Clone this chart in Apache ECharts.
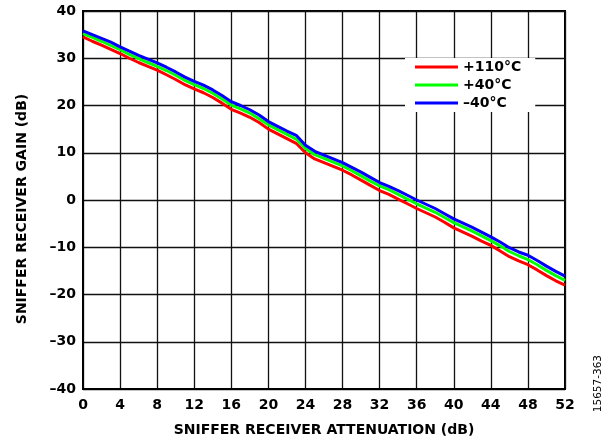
<!DOCTYPE html>
<html>
<head>
<meta charset="utf-8">
<script src="https://cdn.jsdelivr.net/npm/echarts@6/dist/echarts.min.js"></script>
<style>html,body{margin:0;padding:0;background:#fff}#c{width:613px;height:442px}</style>
</head>
<body>
<div id="c"></div>
<script>
var attenuation = [0,1,2,3,4,5,6,7,8,9,10,11,12,13,14,15,16,17,18,19,20,21,22,23,24,25,26,27,28,29,30,31,32,33,34,35,36,37,38,39,40,41,42,43,44,45,46,47,48,49,50,51,52];
var gain110 = [34.5,33.6,32.8,31.9,31.0,30.0,29.1,28.3,27.5,26.5,25.5,24.4,23.5,22.7,21.7,20.5,19.2,18.4,17.5,16.4,15.0,14.0,13.0,12.0,10.0,8.7,7.9,7.1,6.3,5.3,4.2,3.1,2.0,1.2,0.2,-0.8,-1.8,-2.7,-3.6,-4.7,-5.9,-6.8,-7.7,-8.7,-9.6,-10.8,-12.0,-12.9,-13.7,-14.8,-16.0,-17.1,-18.0];
var gain40 = [35.2,34.4,33.6,32.7,31.8,30.8,29.9,29.1,28.3,27.4,26.4,25.3,24.4,23.6,22.6,21.4,20.1,19.3,18.4,17.2,15.9,14.9,13.9,12.9,10.9,9.6,8.8,8.0,7.2,6.2,5.1,4.0,3.0,2.2,1.2,0.2,-0.8,-1.7,-2.6,-3.7,-4.8,-5.7,-6.6,-7.6,-8.6,-9.7,-10.9,-11.8,-12.6,-13.7,-14.9,-16.0,-17.0];
var gainM40 = [35.8,35.0,34.2,33.4,32.4,31.5,30.6,29.8,29.0,28.1,27.1,26.0,25.1,24.3,23.3,22.1,20.8,20.0,19.1,18.0,16.6,15.6,14.6,13.7,11.6,10.3,9.5,8.7,7.9,6.9,5.9,4.8,3.7,2.9,2.0,1.0,0.0,-0.9,-1.8,-2.9,-4.0,-4.9,-5.8,-6.8,-7.8,-8.9,-10.1,-11.0,-11.7,-12.8,-14.0,-15.1,-16.1];
var seriesNames = ['+110°C', '+40°C', '\u201340°C'];
var seriesColors = ['#ff0000', '#00ff00', '#0000ff'];
var xTitle = 'SNIFFER RECEIVER ATTENUATION (dB)';
var yTitle = 'SNIFFER RECEIVER GAIN (dB)';
var figureId = '15657-363';

function pairs(ys){ return attenuation.map(function(x,i){ return [x, ys[i]]; }); }
var allGains = [gain110, gain40, gainM40];
var FONT = 'DejaVu Sans, sans-serif';
function dash(v){ return String(v).replace('-', '\u2013'); }

var chart = echarts.init(document.getElementById('c'), null, {renderer:'canvas'});
chart.setOption({
  animation: false,
  backgroundColor: '#fff',
  grid: {left: 83, right: 48, top: 11, bottom: 52, show: true, borderColor: '#000', borderWidth: 2, backgroundColor: 'transparent'},
  xAxis: {
    type: 'value', min: 0, max: 52, interval: 4,
    name: xTitle, nameLocation: 'middle', nameGap: 34,
    nameTextStyle: {fontFamily: FONT, fontWeight: 'bold', fontSize: 14, color: '#000'},
    axisLine: {show: true, onZero: false, lineStyle: {color: '#000', width: 2}},
    axisTick: {show: false},
    axisLabel: {fontFamily: FONT, fontWeight: 'bold', fontSize: 14, color: '#000', margin: 9, formatter: dash},
    splitLine: {show: true, lineStyle: {color: '#111', width: 1.3}}
  },
  yAxis: {
    type: 'value', min: -40, max: 40, interval: 10,
    name: yTitle, nameLocation: 'middle', nameGap: 54, nameRotate: 90,
    nameTextStyle: {fontFamily: FONT, fontWeight: 'bold', fontSize: 14, color: '#000', padding: [0, 18, 0, 0]},
    axisLine: {show: true, onZero: false, lineStyle: {color: '#000', width: 2}},
    axisTick: {show: false},
    axisLabel: {fontFamily: FONT, fontWeight: 'bold', fontSize: 14, color: '#000', margin: 7, formatter: dash},
    splitLine: {show: true, lineStyle: {color: '#111', width: 1.3}}
  },
  legend: {
    orient: 'vertical', left: 405, top: 58,
    backgroundColor: '#fff', padding: [1, 14, 1, 10],
    itemWidth: 43, itemHeight: 3, itemGap: 2, icon: 'rect',
    textStyle: {fontFamily: FONT, fontWeight: 'bold', fontSize: 14, color: '#000', lineHeight: 16},
    data: seriesNames
  },
  graphic: [{
    type: 'text', left: 593, top: 355, rotation: Math.PI/2,
    style: {text: figureId, font: '10.5px ' + FONT, fill: '#000'}
  }],
  series: seriesNames.map(function(n, i){
    return {
      name: n, type: 'line', data: pairs(allGains[i]), showSymbol: false,
      itemStyle: {color: seriesColors[i]},
      lineStyle: {color: seriesColors[i], width: 3},
      z: 3 + i
    };
  })
});
</script>
</body>
</html>
